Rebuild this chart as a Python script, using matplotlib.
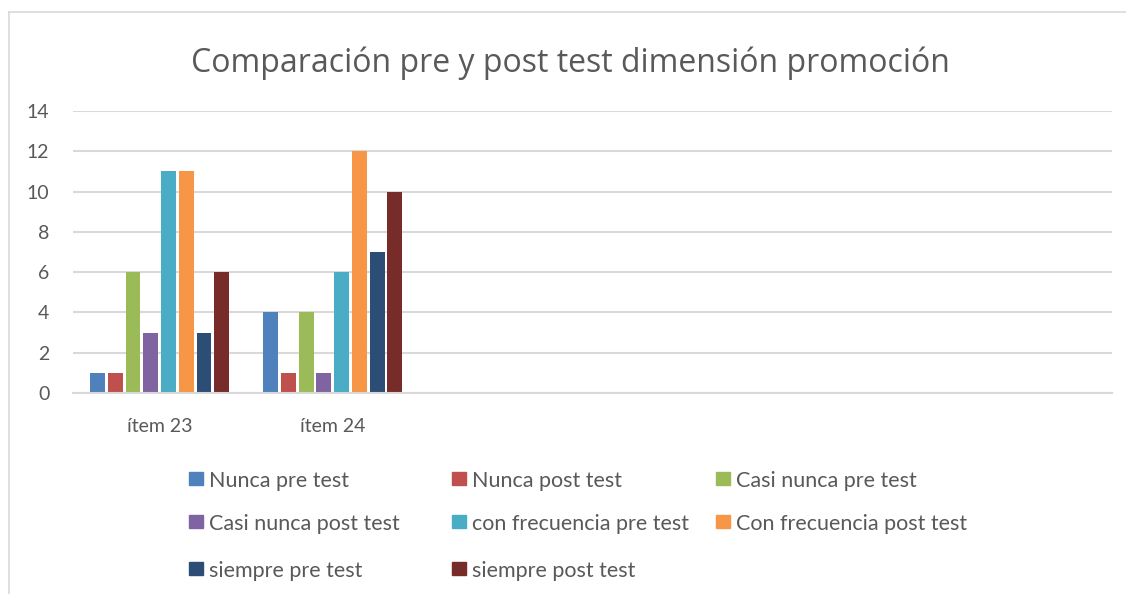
import numpy as np
import matplotlib
matplotlib.use("Agg")
import matplotlib.pyplot as plt
from matplotlib.patches import Rectangle
from matplotlib.lines import Line2D

# datos
categorias = ["ítem 23", "ítem 24", "", "", "", ""]
series = ["Nunca pre test", "Nunca post test", "Casi nunca pre test",
          "Casi nunca post test", "con frecuencia pre test", "Con frecuencia post test",
          "siempre pre test", "siempre post test"]
valores = [
    [1, 4],    # Nunca pre test
    [1, 1],    # Nunca post test
    [6, 4],    # Casi nunca pre test
    [3, 1],    # Casi nunca post test
    [11, 6],   # con frecuencia pre test
    [11, 12],  # Con frecuencia post test
    [3, 7],    # siempre pre test
    [6, 10],   # siempre post test
]
colores = ["#4F81BD", "#C0504D", "#9BBB59", "#8064A2",
           "#4BACC6", "#F79646", "#2C4D75", "#772C2A"]
yticks = [0, 2, 4, 6, 8, 10, 12, 14]

gris = "#595959"
plt.rcParams['font.family'] = ['Lato', 'DejaVu Sans']

W, H = 1126, 594
fig = plt.figure(figsize=(W / 100, H / 100), dpi=100)
ax = fig.add_axes([73 / W, 1 - 393 / H, (1112 - 73) / W, (393 - 111) / H])

n = len(series)
grupo = 0.82
slot = grupo / n
x = np.arange(len(categorias))
for i, (nombre, vals) in enumerate(zip(series, valores)):
    pos = x[:len(vals)] - grupo / 2 + slot * (i + 0.5)
    ax.bar(pos, vals, width=slot * 0.84, color=colores[i], zorder=3)

ax.set_xlim(-0.5, len(categorias) - 0.5)
ax.set_ylim(0, 14)
ax.set_yticks(yticks)
ax.set_xticks(x)
ax.set_xticklabels(categorias)
ax.yaxis.grid(True, color="#D9D9D9", linewidth=1.5, zorder=0)
for s in ["top", "right", "left"]:
    ax.spines[s].set_visible(False)
ax.spines["bottom"].set_color("#D9D9D9")
ax.spines["bottom"].set_linewidth(1.5)
ax.spines["bottom"].set_zorder(4)
ax.tick_params(axis="both", length=0, colors=gris, labelsize=14)
ax.tick_params(axis="y", pad=17)
ax.tick_params(axis="x", pad=18)

fig.text(570 / W, 1 - 63 / H, "Comparación pre y post test dimensión promoción",
         ha="center", va="center", fontsize=23, color=gris, family=["Open Sans", "DejaVu Sans"])

# leyenda manual en tres columnas
col_x = [189, 452, 716]
fila_y = [480, 523, 570]
for i, nombre in enumerate(series):
    cx = col_x[i % 3]
    cy = fila_y[i // 3]
    fig.add_artist(Rectangle((cx / W, 1 - (cy + 5) / H), 14 / W, 13 / H,
                             transform=fig.transFigure, color=colores[i]))
    fig.text((cx + 20) / W, 1 - (cy + 1) / H, nombre, ha="left", va="center",
             fontsize=15.5, color=gris)

# marco del grafico
borde = "#D9D9D9"
fig.add_artist(Line2D([9 / W, 1], [1 - 12 / H, 1 - 12 / H], color=borde, lw=1.2))
fig.add_artist(Line2D([9 / W, 9 / W], [0, 1 - 12 / H], color=borde, lw=1.2))

fig.savefig("out.png", dpi=100, facecolor="white")
